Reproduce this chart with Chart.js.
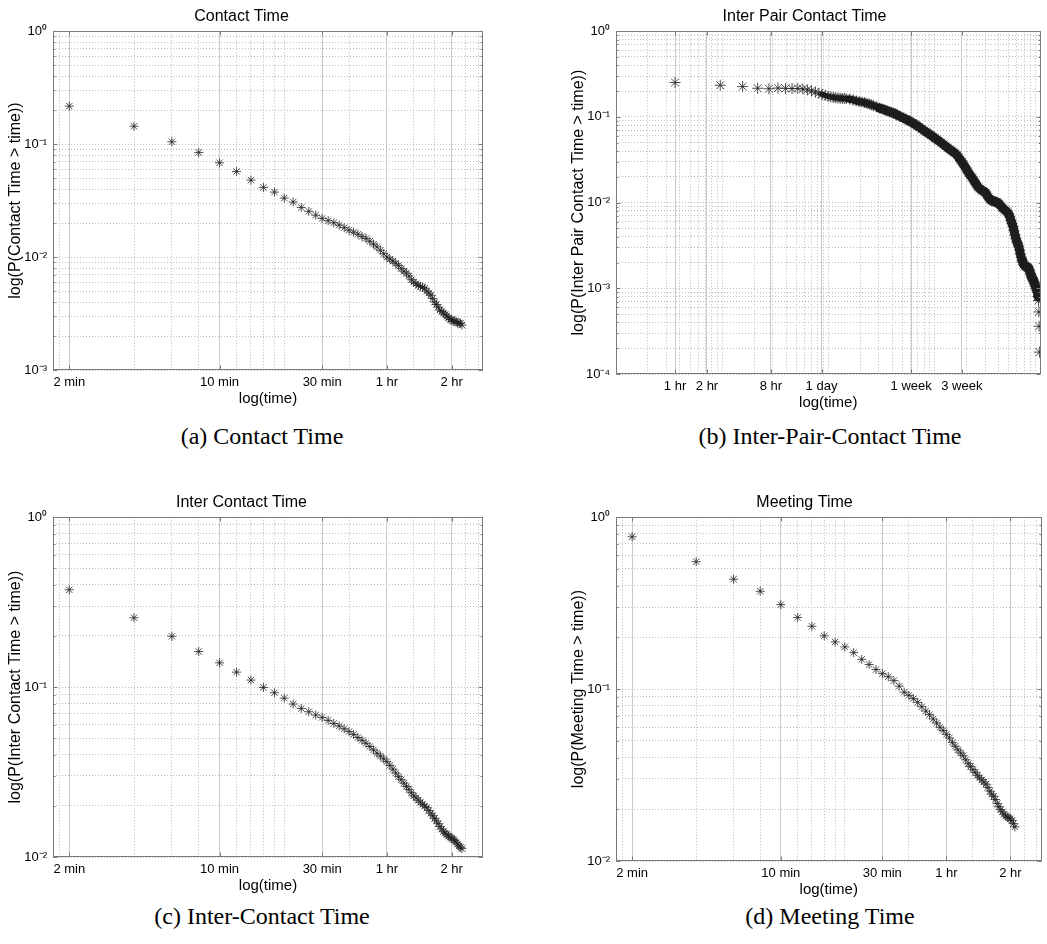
<!DOCTYPE html>
<html>
<head>
<meta charset="utf-8">
<title>Contact time distributions</title>
<script src="https://cdn.jsdelivr.net/npm/chart.js@4.4.1/dist/chart.umd.min.js"></script>
<style>
  body { margin: 0; background: #fff; }
  #page { position: relative; width: 1047px; height: 944px; overflow: hidden; background: #fff; }
  .panel { position: absolute; }
  .caption {
    position: absolute; width: 480px; text-align: center;
    font-family: 'Liberation Serif', 'DejaVu Serif', serif; font-size: 24px; color: #000;
  }
</style>
</head>
<body>
<div id="page">
  <div class="panel" style="left:0px;top:0px;width:500px;height:412px"><canvas id="chartA"></canvas></div>
  <div class="panel" style="left:563px;top:0px;width:484px;height:416px"><canvas id="chartB"></canvas></div>
  <div class="panel" style="left:0px;top:486px;width:500px;height:413px"><canvas id="chartC"></canvas></div>
  <div class="panel" style="left:563px;top:486px;width:484px;height:417px"><canvas id="chartD"></canvas></div>

  <div class="caption" style="left:22px;top:423px">(a) Contact Time</div>
  <div class="caption" style="left:590px;top:423px">(b) Inter-Pair-Contact Time</div>
  <div class="caption" style="left:22px;top:903px">(c) Inter-Contact Time</div>
  <div class="caption" style="left:590px;top:903px">(d) Meeting Time</div>
</div>

<script>
// ---- data (x in minutes for a, c, d; in hours for b) ----
var minutesAC = [2, 4, 6, 8, 10, 12, 14, 16, 18, 20, 22, 24, 26, 28, 30, 32, 34, 36, 38, 40,
  42, 44, 46, 48, 50, 52, 54, 56, 58, 60, 62, 64, 66, 68, 70, 72, 74, 76, 78, 80,
  82, 84, 86, 88, 90, 92, 94, 96, 98, 100, 102, 104, 106, 108, 110, 112, 114, 116, 118, 120,
  122, 124, 126, 128, 130, 132, 134];

var contactP = [0.217, 0.144, 0.105, 0.0844, 0.0684, 0.0573, 0.048, 0.0414, 0.0376, 0.0333,
  0.0307, 0.0275, 0.0254, 0.0235, 0.022, 0.021, 0.0201, 0.0192, 0.0182, 0.0173,
  0.0166, 0.0159, 0.0152, 0.0146, 0.0138, 0.013, 0.0123, 0.0115, 0.0107, 0.01,
  0.0096, 0.0092, 0.0088, 0.0084, 0.0079, 0.0075, 0.0072, 0.0068, 0.0063, 0.006,
  0.0058, 0.0056, 0.0055, 0.0054, 0.0053, 0.005, 0.0048, 0.0046, 0.0043, 0.004,
  0.0038, 0.0036, 0.0034, 0.0033, 0.0032, 0.0031, 0.003, 0.0029, 0.0028, 0.0028,
  0.0027, 0.0027, 0.0027, 0.0026, 0.0026, 0.0026, 0.0025];

var interContactP = [0.374, 0.256, 0.199, 0.162, 0.139, 0.1225, 0.11, 0.0995, 0.0926, 0.0861,
  0.0795, 0.0749, 0.0716, 0.0685, 0.0663, 0.0637, 0.0611, 0.059, 0.0568, 0.0547,
  0.0527, 0.0505, 0.0486, 0.0467, 0.0447, 0.0427, 0.0408, 0.0393, 0.0378, 0.0364,
  0.0346, 0.0329, 0.0312, 0.0297, 0.0285, 0.0272, 0.026, 0.025, 0.0239, 0.0229,
  0.0223, 0.0216, 0.021, 0.0204, 0.0199, 0.0195, 0.0188, 0.0181, 0.0175, 0.0169,
  0.0163, 0.0157, 0.0151, 0.0146, 0.0141, 0.0138, 0.0136, 0.0133, 0.0131, 0.0129,
  0.0127, 0.0125, 0.0122, 0.0119, 0.0116, 0.0114, 0.0112];

var minutesD = [2, 4, 6, 8, 10, 12, 14, 16, 18, 20, 22, 24, 26, 28, 30, 32, 34, 36, 38, 40,
  42, 44, 46, 48, 50, 52, 54, 56, 58, 60, 62, 64, 66, 68, 70, 72, 74, 76, 78, 80,
  82, 84, 86, 88, 90, 92, 94, 96, 98, 100, 102, 104, 106, 108, 110, 112, 114, 116, 118, 120,
  122, 124, 126];

var meetingP = [0.769, 0.551, 0.436, 0.371, 0.31, 0.261, 0.232, 0.204, 0.188, 0.176,
  0.163, 0.149, 0.139, 0.13, 0.123, 0.118, 0.112, 0.104, 0.096, 0.092,
  0.088, 0.0838, 0.079, 0.0745, 0.071, 0.067, 0.0635, 0.06, 0.0575, 0.0545,
  0.052, 0.049, 0.0465, 0.0443, 0.0425, 0.041, 0.0388, 0.0368, 0.0355, 0.034,
  0.0328, 0.0315, 0.0305, 0.0297, 0.0288, 0.028, 0.0268, 0.0255, 0.0245, 0.0238,
  0.0228, 0.0216, 0.0207, 0.0199, 0.0193, 0.0187, 0.0183, 0.018, 0.0178, 0.0176,
  0.0172, 0.0165, 0.0158];

var pairHours = [1, 2.667, 4.333, 6, 7.667, 9.333, 11, 12.667, 14.333, 16,
  17.667, 19.333, 21, 22.667, 24.333, 26, 27.667, 29.333, 31, 32.667,
  34.333, 36, 37.667, 39.333, 41, 44.333, 47.667, 51, 54.333, 57.667,
  61, 64.333, 67.667, 71, 74.333, 79.333, 84.333, 89.333, 94.333, 99.333,
  104.333, 109.333, 114.333, 119.333, 124.333, 132.667, 141, 149.333, 157.667, 166,
  174.333, 182.667, 191, 199.333, 211, 222.667, 234.333, 246, 257.667, 269.333,
  281, 292.667, 304.333, 321, 337.667, 354.333, 371, 387.667, 404.333, 421,
  437.667, 454.333, 471, 487.667, 504.333, 521, 537.667, 554.333, 571, 587.667,
  604.333, 621, 637.667, 654.333, 671, 687.667, 704.333, 721, 746, 771,
  796, 821, 846, 871, 896, 921, 946, 971, 996, 1021,
  1046, 1071, 1096, 1129.333, 1162.667, 1196, 1229.333, 1262.667, 1296, 1329.333,
  1362.667, 1396, 1429.333, 1462.667, 1496, 1529.333, 1562.667, 1596, 1629.333, 1662.667,
  1696, 1729.333, 1762.667, 1796, 1829.333, 1862.667, 1896, 1929.333, 1962.667, 1996,
  2029.333, 2062.667, 2096, 2129.333, 2162.667, 2196, 2229.333, 2262.667, 2296, 2329.333,
  2362.667, 2396, 2429.333, 2462.667, 2496, 2529.333, 2562.667, 2596, 2629.333, 2662.667,
  2679.333, 2696, 2712.667];

var pairP = [0.252, 0.234, 0.226, 0.216, 0.213, 0.217, 0.215, 0.214, 0.215, 0.212,
  0.207, 0.201, 0.195, 0.189, 0.183, 0.178, 0.174, 0.171, 0.169, 0.167,
  0.166, 0.165, 0.164, 0.164, 0.163, 0.161, 0.158, 0.154, 0.151, 0.149,
  0.147, 0.144, 0.141, 0.138, 0.135, 0.131, 0.127, 0.124, 0.121, 0.118,
  0.115, 0.113, 0.111, 0.108, 0.105, 0.101, 0.0975, 0.094, 0.091, 0.088,
  0.085, 0.0818, 0.079, 0.076, 0.0725, 0.069, 0.0662, 0.0638, 0.0612, 0.0588,
  0.0566, 0.0545, 0.0527, 0.0502, 0.0478, 0.0455, 0.0436, 0.0418, 0.0403, 0.0388,
  0.0375, 0.0358, 0.0337, 0.0316, 0.0298, 0.028, 0.0264, 0.0248, 0.0233, 0.022,
  0.0209, 0.02, 0.0191, 0.0181, 0.0172, 0.0164, 0.0157, 0.015, 0.0145, 0.014,
  0.0137, 0.0134, 0.013, 0.0122, 0.0115, 0.011, 0.0107, 0.0105, 0.0104, 0.0103,
  0.0102, 0.0101, 0.01, 0.0097, 0.0093, 0.0089, 0.0086, 0.0083, 0.0081, 0.0079,
  0.0077, 0.0073, 0.0068, 0.0062, 0.0057, 0.0053, 0.0047, 0.0042, 0.0038, 0.0035,
  0.0033, 0.0031, 0.0028, 0.0025, 0.0023, 0.0021, 0.002, 0.0019, 0.00185, 0.0018,
  0.0018, 0.00178, 0.00175, 0.00172, 0.00165, 0.0016, 0.0015, 0.0014, 0.00135, 0.0013,
  0.00125, 0.0012, 0.00115, 0.0011, 0.00105, 0.001, 0.00095, 0.0009, 0.0008, 0.00072,
  0.00053, 0.00036, 0.00018];

// the pair-contact markers overlap into a solid band from about a day onward
var pairBandFrom = 14;
var pairBandTo = 149;

// ---- axis ticks ----
var minuteTickValues = [2, 10, 30, 60, 120];
var minuteTickLabels = ['2 min', '10 min', '30 min', '1 hr', '2 hr'];
var minuteGrid = [1.8, 2, 4, 6, 8, 10, 12, 14, 16, 18, 20, 30, 40, 60, 80, 100, 120, 140, 160];

var pairTickValues = [3600, 7200, 28800, 86400, 604800, 1814400];   // seconds
var pairTickLabels = ['1 hr', '2 hr', '8 hr', '1 day', '1 week', '3 week'];

var FONT = "'Liberation Sans', Arial, Helvetica, sans-serif";
Chart.defaults.font.family = FONT;
Chart.defaults.color = '#000';

function decadeGrid(lo, hi) {
  var out = [];
  for (var e = Math.round(Math.log10(lo)); e < Math.round(Math.log10(hi)); e++) {
    for (var m = 1; m < 10; m++) out.push(m * Math.pow(10, e));
  }
  out.push(hi);
  return out;
}

function sameValue(a, b) { return Math.abs(a - b) / b < 1e-6; }

function isDecade(v) { return Math.abs(Math.log10(v) - Math.round(Math.log10(v))) < 1e-6; }

var SUP = { '0': '\u2070', '1': '\u00b9', '2': '\u00b2', '3': '\u00b3', '4': '\u2074', '-': '\u207b' };
function expLabel(v) {
  if (!isDecade(v)) return '';
  var e = Math.round(Math.log10(v));
  return '10' + String(e).split('').map(function (c) { return SUP[c]; }).join('');
}

// box around the plot area plus short inward ticks, like matlab's "box on"
var framePlugin = {
  id: 'frame',
  afterDatasetsDraw: function (chart, args, opts) {
    var a = chart.chartArea, ctx = chart.ctx;
    var L = Math.round(a.left) + 0.5, T = Math.round(a.top) + 0.5;
    var R = Math.round(a.right) - 0.5, B = Math.round(a.bottom) - 0.5;
    ctx.save();
    ctx.strokeStyle = '#7a7a7a';
    ctx.lineWidth = 1;
    ctx.strokeRect(L, T, R - L, B - T);
    ctx.beginPath();
    (opts.xTicks || []).forEach(function (v) {
      var x = Math.round(chart.scales.x.getPixelForValue(v)) + 0.5;
      ctx.moveTo(x, B); ctx.lineTo(x, B - 4);
      ctx.moveTo(x, T); ctx.lineTo(x, T + 4);
    });
    chart.scales.y.ticks.forEach(function (t) {
      var y = Math.round(chart.scales.y.getPixelForValue(t.value)) + 0.5;
      var len = isDecade(t.value) ? 4 : 2;
      ctx.moveTo(L, y); ctx.lineTo(L + len, y);
      ctx.moveTo(R, y); ctx.lineTo(R - len, y);
    });
    ctx.stroke();
    ctx.restore();
  }
};

function makeChart(id, o) {
  var labelled = o.tickValues;
  var datasets = [{
    data: o.points,
    order: 0,
    showLine: false,
    pointStyle: 'star',
    pointRadius: o.radius || 4.5,
    borderWidth: 1,
    borderColor: 'rgba(30,30,30,0.78)',
    backgroundColor: 'rgba(30,30,30,0.78)'
  }];
  if (o.band) {
    datasets.push({
      data: o.band,
      order: 1,
      showLine: true,
      pointRadius: 0,
      borderWidth: 6,
      borderColor: 'rgba(15,15,15,0.92)',
      borderJoinStyle: 'round',
      borderCapStyle: 'round',
      tension: 0,
      segment: {
        // band is thinner near a day, widest from a week on
        borderWidth: function (c) { return c.p0.parsed.x > 3e5 ? 9 : (c.p0.parsed.x > 1.5e5 ? 7.5 : 5.5); }
      }
    });
  }
  return new Chart(document.getElementById(id), {
    type: 'scatter',
    data: { datasets: datasets },
    options: {
      responsive: true,
      maintainAspectRatio: false,
      animation: false,
      events: [],
      layout: { padding: { left: 0, right: o.rightPad, top: 0, bottom: 0 } },
      plugins: {
        legend: { display: false },
        tooltip: { enabled: false },
        frame: { xTicks: labelled },
        title: {
          display: true,
          text: o.title,
          color: '#000',
          font: { size: 16, weight: 'normal' },
          padding: { top: 7, bottom: 5 }
        }
      },
      scales: {
        x: {
          type: 'logarithmic',
          min: o.xMin,
          max: o.xMax,
          afterBuildTicks: function (s) { s.ticks = o.xGrid.map(function (v) { return { value: v }; }); },
          afterFit: function (s) { s.height = o.xAxisHeight; },
          ticks: {
            autoSkip: false, maxRotation: 0, minRotation: 0, padding: 5,
            font: { size: 13 },
            callback: function (v) {
              for (var i = 0; i < labelled.length; i++) {
                if (sameValue(v, labelled[i])) return o.tickLabels[i];
              }
              return '';
            }
          },
          grid: {
            drawTicks: false,
            color: function (c) {
              var v = c.tick ? c.tick.value : 0;
              return labelled.some(function (t) { return sameValue(v, t); }) ? '#cacaca' : '#bdbdbd';
            }
          },
          border: {
            display: false,
            dash: function (c) {
              var v = c.tick ? c.tick.value : 0;
              return labelled.some(function (t) { return sameValue(v, t); }) ? [] : [1, 2];
            }
          },
          title: {
            display: true, text: 'log(time)', color: '#000',
            font: { size: 15 }, padding: { top: 0, bottom: 4 }
          }
        },
        y: {
          type: 'logarithmic',
          min: o.yMin,
          max: 1,
          afterBuildTicks: function (s) { s.ticks = decadeGrid(o.yMin, 1).map(function (v) { return { value: v }; }); },
          afterFit: function (s) { s.width = 53; },
          ticks: {
            autoSkip: false, padding: 6,
            font: { size: 13 },
            callback: function (v) { return expLabel(v); }
          },
          grid: { drawTicks: false, color: '#bdbdbd' },
          border: { display: false, dash: [1, 2] },
          title: {
            display: true, text: o.yTitle, color: '#000',
            font: { size: 16 }, padding: { top: 6, bottom: 0 }
          }
        }
      }
    },
    plugins: [framePlugin]
  });
}

function pts(xs, ys, k) {
  return xs.map(function (x, i) { return { x: x * k, y: ys[i] }; });
}

makeChart('chartA', {
  title: 'Contact Time', yTitle: 'log(P(Contact Time > time))',
  points: pts(minutesAC, contactP, 1),
  xMin: 1.68, xMax: 168, xGrid: minuteGrid,
  tickValues: minuteTickValues, tickLabels: minuteTickLabels,
  yMin: 0.001, rightPad: 17, xAxisHeight: 42
});

var pairGrid = decadeGrid(1000, 1e7).concat(pairTickValues).sort(function (a, b) { return a - b; });
var pairPoints = pts(pairHours, pairP, 3600);
makeChart('chartB', {
  title: 'Inter Pair Contact Time', yTitle: 'log(P(Inter Pair Contact Time > time))',
  points: pairPoints,
  band: pairPoints.slice(pairBandFrom, pairBandTo),
  radius: 5.5,
  xMin: 1000, xMax: 1e7, xGrid: pairGrid,
  tickValues: pairTickValues, tickLabels: pairTickLabels,
  yMin: 0.0001, rightPad: 1, xAxisHeight: 42
});

makeChart('chartC', {
  title: 'Inter Contact Time', yTitle: 'log(P(Inter Contact Time > time))',
  points: pts(minutesAC, interContactP, 1),
  xMin: 1.68, xMax: 168, xGrid: minuteGrid,
  tickValues: minuteTickValues, tickLabels: minuteTickLabels,
  yMin: 0.01, rightPad: 17, xAxisHeight: 42
});

makeChart('chartD', {
  title: 'Meeting Time', yTitle: 'log(P(Meeting Time > time))',
  points: pts(minutesD, meetingP, 1),
  xMin: 1.68, xMax: 168, xGrid: minuteGrid,
  tickValues: minuteTickValues, tickLabels: minuteTickLabels,
  yMin: 0.01, rightPad: 1, xAxisHeight: 42
});
</script>
</body>
</html>
